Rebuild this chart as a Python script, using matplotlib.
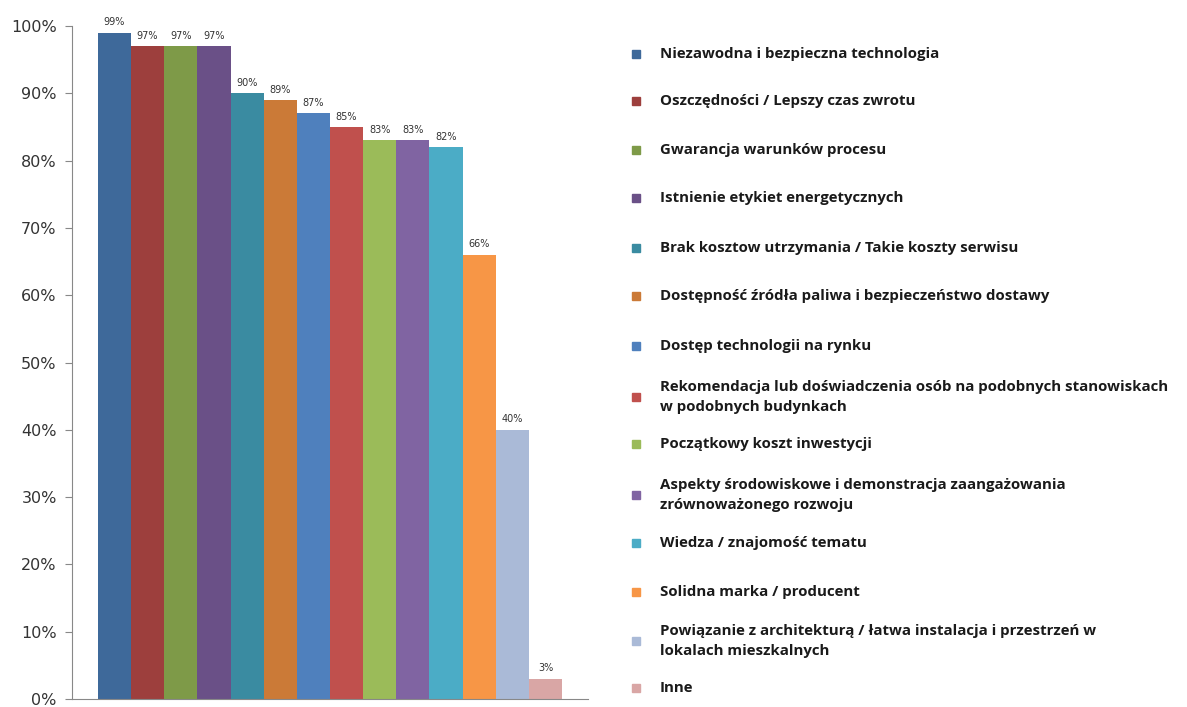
import matplotlib.pyplot as plt
from matplotlib.patches import Rectangle

categories = [
    "Niezawodna i bezpieczna technologia",
    "Oszczędności / Lepszy czas zwrotu",
    "Gwarancja warunków procesu",
    "Istnienie etykiet energetycznych",
    "Brak kosztow utrzymania / Takie koszty serwisu",
    "Dostępność źródła paliwa i bezpieczeństwo dostawy",
    "Dostęp technologii na rynku",
    "Rekomendacja lub doświadczenia osób na podobnych stanowiskach\nw podobnych budynkach",
    "Początkowy koszt inwestycji",
    "Aspekty środowiskowe i demonstracja zaangażowania\nzrównoważonego rozwoju",
    "Wiedza / znajomość tematu",
    "Solidna marka / producent",
    "Powiązanie z architekturą / łatwa instalacja i przestrzeń w\nlokalach mieszkalnych",
    "Inne",
]
values = [99, 97, 97, 97, 90, 89, 87, 85, 83, 83, 82, 66, 40, 3]
colors = ["#3E699A", "#9D3F3D", "#7E9A48", "#6A5087", "#3A8BA1", "#CB7A37",
          "#4F80BD", "#C0504D", "#9BBB59", "#8064A2", "#4BACC6", "#F79646",
          "#AABAD7", "#D9A6A5"]
# vertical position (pixels from top) of each legend entry
legend_y = [54, 101, 150, 198, 248, 296, 346, 397, 444, 495, 543, 592, 641, 688]

W, H = 1187, 707
fig = plt.figure(figsize=(W / 100, H / 100), dpi=100)
ax = fig.add_axes([72 / W, 1 - 699 / H, (588 - 72) / W, (699 - 26) / H])

x = list(range(len(values)))
ax.bar(x, [v / 100 for v in values], width=1.0, color=colors)
for xi, v in zip(x, values):
    ax.text(xi, v / 100 + 0.008, f"{v}%", ha="center", va="bottom",
            fontsize=7, color="#333333")

ax.set_xlim(-1.28, len(values) - 1 + 1.28)
ax.set_ylim(0, 1)
ax.set_yticks([i / 10 for i in range(11)])
ax.set_yticklabels([f"{i * 10}%" for i in range(11)], fontsize=11.5, color="#333333")
ax.set_xticks([])
ax.tick_params(axis="y", length=5, color="#888888", pad=6)
ax.spines["top"].set_visible(False)
ax.spines["right"].set_visible(False)
for s in ["left", "bottom"]:
    ax.spines[s].set_color("#888888")

# legend drawn by hand to follow the uneven spacing of the original
for label, c, yp in zip(categories, colors, legend_y):
    fig.patches.append(Rectangle((632 / W, 1 - (yp + 4) / H), 8 / W, 8 / H,
                                 transform=fig.transFigure, color=c))
    fig.text(660 / W, 1 - yp / H, label, ha="left", va="center",
             fontsize=10.8, fontweight="bold", color="#1a1a1a",
             family="Open Sans", linespacing=1.55)

fig.savefig("out.png", dpi=100)
